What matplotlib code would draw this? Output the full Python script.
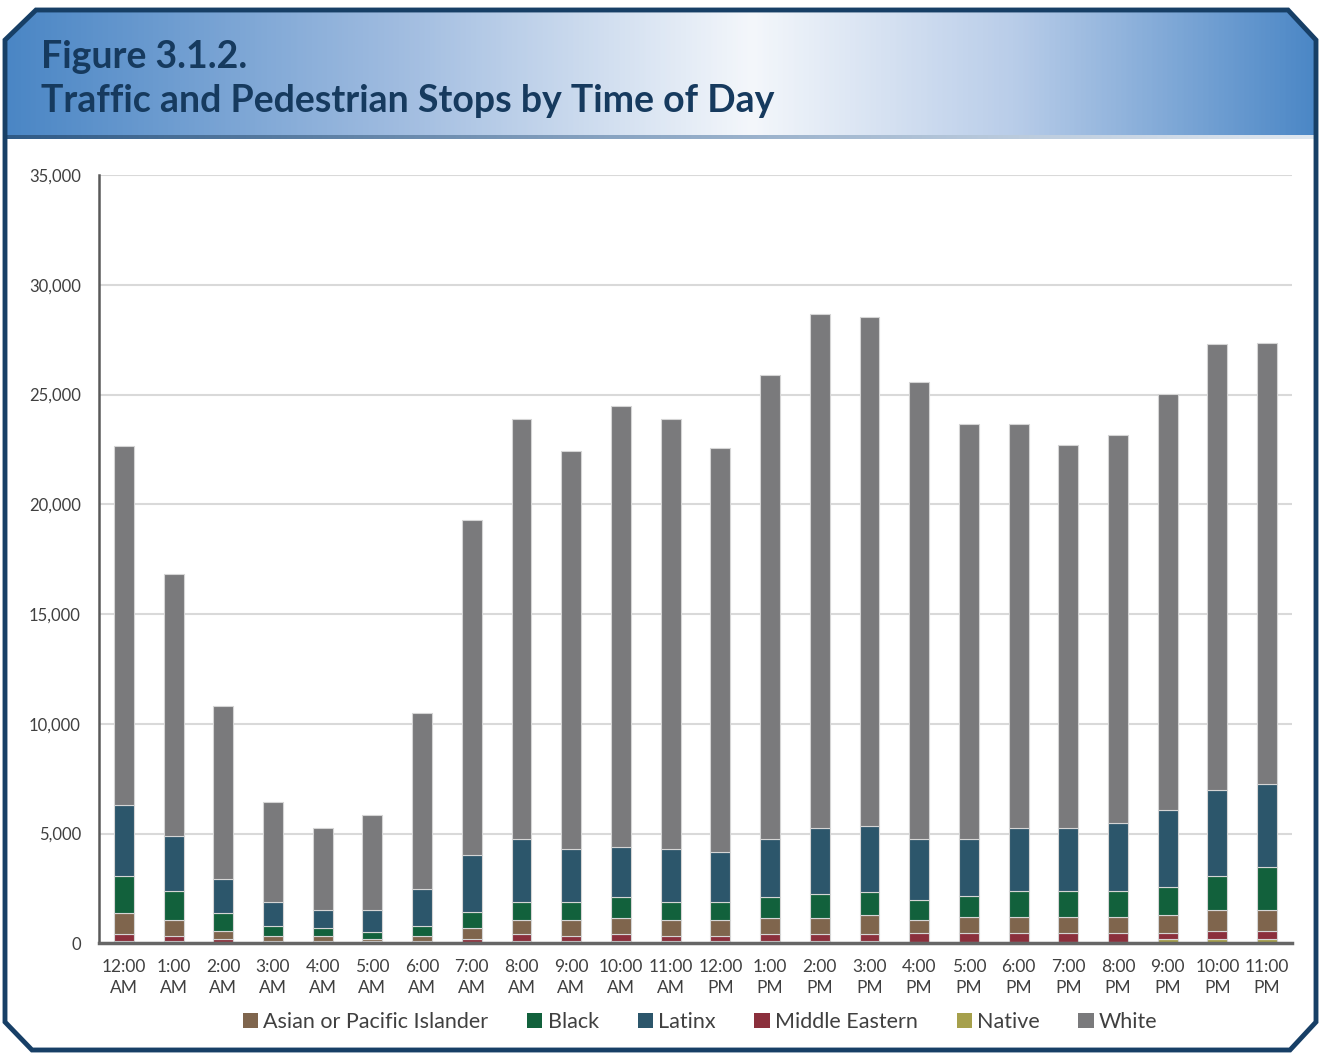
import numpy as np
import matplotlib
matplotlib.use("Agg")
import matplotlib.pyplot as plt
from matplotlib.patches import Polygon
from matplotlib.colors import LinearSegmentedColormap

hours = ["12:00\nAM", "1:00\nAM", "2:00\nAM", "3:00\nAM", "4:00\nAM", "5:00\nAM",
         "6:00\nAM", "7:00\nAM", "8:00\nAM", "9:00\nAM", "10:00\nAM", "11:00\nAM",
         "12:00\nPM", "1:00\nPM", "2:00\nPM", "3:00\nPM", "4:00\nPM", "5:00\nPM",
         "6:00\nPM", "7:00\nPM", "8:00\nPM", "9:00\nPM", "10:00\nPM", "11:00\nPM"]

# stacked bottom to top
native = [90, 90, 60, 70, 70, 70, 70, 80, 90, 90, 90, 90,
          90, 90, 90, 90, 75, 75, 75, 75, 75, 195, 195, 195]
middle_eastern = [350, 230, 150, 30, 30, 20, 30, 120, 350, 230, 350, 230,
                  230, 350, 350, 350, 380, 380, 380, 380, 380, 260, 350, 350]
asian = [950, 730, 350, 220, 220, 110, 220, 490, 610, 730, 730, 730,
         730, 730, 730, 840, 590, 730, 730, 730, 730, 830, 980, 980]
black = [1680, 1320, 830, 480, 360, 330, 480, 730, 830, 830, 950, 830,
         830, 950, 1060, 1070, 950, 950, 1180, 1180, 1180, 1300, 1560, 1930]
latinx = [3250, 2530, 1550, 1080, 850, 1000, 1680, 2620, 2860, 2400, 2270, 2400,
          2290, 2620, 3010, 3000, 2760, 2620, 2880, 2880, 3120, 3480, 3920, 3820]
white = [16330, 11910, 7850, 4570, 3710, 4320, 8030, 15250, 19140, 18130, 20080, 19600,
         18380, 21170, 23450, 23200, 20800, 18900, 18410, 17450, 17670, 18980, 20300, 20050]

series = [
    ("Native", native, "#a6a04c"),
    ("Middle Eastern", middle_eastern, "#8b2f3c"),
    ("Asian or Pacific Islander", asian, "#7f654d"),
    ("Black", black, "#12613c"),
    ("Latinx", latinx, "#2c566b"),
    ("White", white, "#7a7a7c"),
]
legend_order = ["Asian or Pacific Islander", "Black", "Latinx", "Middle Eastern", "Native", "White"]

W, H = 1319, 1053
fig = plt.figure(figsize=(W / 100, H / 100), dpi=100)

# background frame in pixel coordinates
bg = fig.add_axes([0, 0, 1, 1])
bg.set_xlim(0, W)
bg.set_ylim(H, 0)
bg.axis("off")

navy = "#173f66"
frame = [(5, 40), (36, 10), (1288, 10), (1316, 40), (1316, 1022), (1290, 1050),
         (32, 1050), (5, 1022)]
bg.add_patch(Polygon(frame, closed=True, facecolor="white", edgecolor="none", zorder=0))

header = [(5, 40), (36, 10), (1288, 10), (1316, 40), (1316, 137), (5, 137)]
header_patch = Polygon(header, closed=True, facecolor="none", edgecolor="none")
bg.add_patch(header_patch)
cmap = LinearSegmentedColormap.from_list(
    "hdr", [(0.0, "#4a86c5"), (0.3, "#a0bce0"), (0.57, "#f4f7fb"), (0.77, "#b9cde9"), (1.0, "#4b87c6")])
grad = np.linspace(0, 1, 512).reshape(1, -1)
im = bg.imshow(grad, cmap=cmap, extent=[5, 1316, 137, 10], aspect="auto", zorder=1)
im.set_clip_path(header_patch)

sep = np.linspace(0, 1, 512).reshape(1, -1)
sep_cmap = LinearSegmentedColormap.from_list("sep", ["#2f5a86", "#8fa9c6", "#dfe7f0"])
bg.imshow(sep, cmap=sep_cmap, extent=[5, 1316, 139, 135], aspect="auto", zorder=2)

bg.add_patch(Polygon(frame, closed=True, facecolor="none", edgecolor=navy, linewidth=3.5, zorder=3))
bg.set_xlim(0, W)
bg.set_ylim(H, 0)

title_font = dict(fontsize=27, fontweight="bold", family="Lato", color="#163a5e",
                  va="center", ha="left", zorder=4)
bg.text(41, 57, "Figure 3.1.2.", **title_font)
bg.text(41, 101, "Traffic and Pedestrian Stops by Time of Day", **title_font)

# chart
ax = fig.add_axes([99 / W, 1 - 943.3 / H, (1292 - 99) / W, (943.3 - 175) / H])
x = np.arange(len(hours))
bottom = np.zeros(len(hours))
handles = {}
for name, vals, color in series:
    vals = np.array(vals, dtype=float)
    b = ax.bar(x, vals, 0.4, bottom=bottom, color=color, edgecolor="#d5d5d5",
               linewidth=0.8, label=name, zorder=3)
    handles[name] = b
    bottom += vals

ax.set_xlim(-0.5, len(hours) - 0.5)
ax.set_ylim(0, 35000)
ax.set_yticks(np.arange(0, 35001, 5000))
ax.set_yticklabels(["0" if v == 0 else f"{v:,}" for v in range(0, 35001, 5000)])
ax.set_xticks(x)
ax.set_xticklabels(hours, linespacing=1.4)
ax.tick_params(axis="both", length=0, labelcolor="#404040")
ax.tick_params(axis="y", pad=13, labelsize=12)
ax.tick_params(axis="x", pad=11, labelsize=12.5)
for lbl in ax.get_xticklabels() + ax.get_yticklabels():
    lbl.set_family("Lato")

ax.grid(axis="y", color="#d9d9d9", linewidth=1.5, zorder=0)
ax.set_axisbelow(True)
for s in ["top", "right"]:
    ax.spines[s].set_visible(False)
ax.spines["left"].set_color("#595959")
ax.spines["left"].set_linewidth(1.8)
ax.spines["bottom"].set_color("#666666")
ax.spines["bottom"].set_linewidth(2.5)
ax.spines["bottom"].set_zorder(4)

leg = ax.legend([handles[n] for n in legend_order], legend_order, loc="center",
                bbox_to_anchor=(0.504, -0.102), ncol=6, frameon=False,
                prop={"family": "Lato", "size": 15.5}, labelcolor="#404040",
                handlelength=0.7, handleheight=0.7, handletextpad=0.25, columnspacing=1.8)
for h in leg.legend_handles:
    h.set_edgecolor("none")

fig.savefig("out.png", dpi=100)
